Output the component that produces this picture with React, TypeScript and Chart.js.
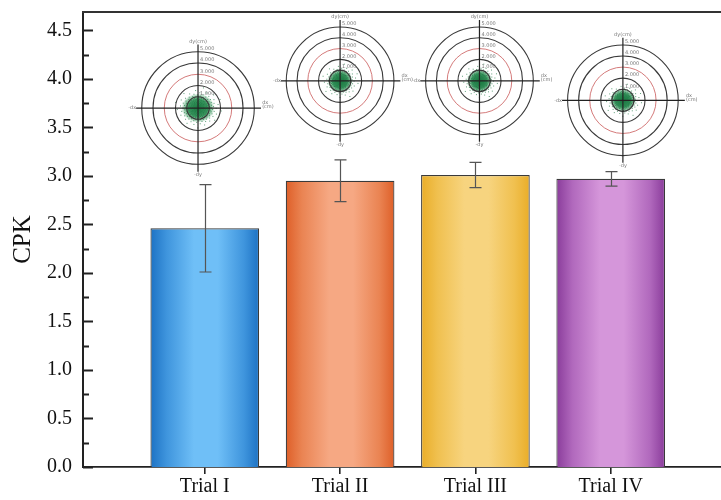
import React, { useEffect, useRef } from 'react';
import { Chart, registerables } from 'chart.js';

Chart.register(...registerables);

// ---- data ----
const categories = ['Trial I', 'Trial II', 'Trial III', 'Trial IV'];
const cpkValues = [2.46, 2.95, 3.01, 2.97];
const cpkErrors = [0.45, 0.215, 0.13, 0.075];
const yMajorTicks = [0, 0.5, 1.0, 1.5, 2.0, 2.5, 3.0, 3.5, 4.0, 4.5];
const yMinorTicks = [0.25, 0.75, 1.25, 1.75, 2.25, 2.75, 3.25, 3.75, 4.25];
const ringLabels = ['1.000', '2.000', '3.000', '4.000', '5.000'];

const edgeColors = ['#1d72c4', '#de5f28', '#e9ad28', '#8a3c9b'];
const midColors = ['#3f95dd', '#ea8453', '#f0c04f', '#b169bd'];
const lightColors = ['#6fbff7', '#f6a883', '#f7d47f', '#d596da'];

// inset target plots (data units: x in category index, y in CPK)
const insetX = [0.95, 2.0, 3.03, 4.09];
const insetY = [3.70, 3.98, 3.98, 3.78];
const insetR = [0.58, 0.555, 0.555, 0.57];
const cloudRx = [0.17, 0.13, 0.13, 0.135];
const cloudRy = [0.15, 0.125, 0.125, 0.12];

const SERIF = '"Liberation Serif", "Times New Roman", serif';

const frameAndTicks = {
  id: 'frameAndTicks',
  afterDraw(chart: any) {
    const { ctx, chartArea } = chart;
    const y = chart.scales.y;
    ctx.save();
    ctx.strokeStyle = '#333';
    ctx.lineWidth = 2;
    ctx.beginPath();
    ctx.moveTo(chartArea.left - 1, chartArea.top);
    ctx.lineTo(chartArea.right, chartArea.top);
    ctx.stroke();
    ctx.strokeStyle = '#222';
    ctx.lineWidth = 1.8;
    ctx.beginPath();
    yMajorTicks.forEach((v) => {
      const py = Math.round(y.getPixelForValue(v)) + 0.5;
      ctx.moveTo(chartArea.left, py);
      ctx.lineTo(chartArea.left + 10, py);
    });
    yMinorTicks.forEach((v) => {
      const py = Math.round(y.getPixelForValue(v)) + 0.5;
      ctx.moveTo(chartArea.left, py);
      ctx.lineTo(chartArea.left + 6, py);
    });
    ctx.stroke();
    ctx.restore();
  },
};

const errorBars = {
  id: 'errorBars',
  afterDatasetsDraw(chart: any) {
    const { ctx } = chart;
    const x = chart.scales.x;
    const y = chart.scales.y;
    ctx.save();
    ctx.strokeStyle = '#555';
    ctx.lineWidth = 1.2;
    cpkValues.forEach((v, i) => {
      const px = Math.round(x.getPixelForValue(i + 1)) + 0.5;
      const top = y.getPixelForValue(v + cpkErrors[i]);
      const bot = y.getPixelForValue(v - cpkErrors[i]);
      ctx.beginPath();
      ctx.moveTo(px, top);
      ctx.lineTo(px, bot);
      ctx.moveTo(px - 6, top);
      ctx.lineTo(px + 6, top);
      ctx.moveTo(px - 6, bot);
      ctx.lineTo(px + 6, bot);
      ctx.stroke();
    });
    ctx.restore();
  },
};

const insets = {
  id: 'insets',
  afterDraw(chart: any) {
    const { ctx } = chart;
    const x = chart.scales.x;
    const y = chart.scales.y;
    const unit = Math.abs(y.getPixelForValue(0) - y.getPixelForValue(1));
    ctx.save();
    insetX.forEach((ix, i) => {
      const cx = x.getPixelForValue(ix);
      const cy = y.getPixelForValue(insetY[i]);
      const R = insetR[i] * unit;
      // cloud
      const rx = cloudRx[i] * unit;
      const ry = cloudRy[i] * unit;
      ctx.save();
      ctx.translate(cx, cy);
      ctx.scale(rx, ry);
      const g = ctx.createRadialGradient(0, 0, 0, 0, 0, 1);
      g.addColorStop(0, 'rgba(22,122,62,0.95)');
      g.addColorStop(0.6, 'rgba(30,135,72,0.85)');
      g.addColorStop(0.85, 'rgba(60,155,95,0.45)');
      g.addColorStop(1, 'rgba(90,170,120,0)');
      ctx.fillStyle = g;
      ctx.beginPath();
      ctx.arc(0, 0, 1, 0, Math.PI * 2);
      ctx.fill();
      ctx.restore();
      // speckle texture
      ctx.fillStyle = 'rgba(25,120,65,0.7)';
      const n = 260;
      for (let k = 0; k < n; k++) {
        const u = (k + 0.5) / n;
        const rr = Math.min(1.45, Math.sqrt(-2 * Math.log(1 - u)) * 0.5);
        const a = k * 2.39996;
        ctx.fillRect(cx + Math.cos(a) * rr * rx, cy + Math.sin(a) * rr * ry, 1, 1);
      }
      // rings
      for (let k = 1; k <= 5; k++) {
        ctx.beginPath();
        ctx.arc(cx, cy, (R * k) / 5, 0, Math.PI * 2);
        if (k === 3) {
          ctx.strokeStyle = '#cf6b6b';
          ctx.lineWidth = 0.9;
        } else {
          ctx.strokeStyle = '#3a3a3a';
          ctx.lineWidth = 1.1;
        }
        ctx.stroke();
      }
      // cross
      ctx.strokeStyle = '#222';
      ctx.lineWidth = 1.2;
      ctx.beginPath();
      ctx.moveTo(cx - R * 1.1, cy);
      ctx.lineTo(cx + R * 1.12, cy);
      ctx.moveTo(cx, cy - R * 1.13);
      ctx.lineTo(cx, cy + R * 1.13);
      ctx.stroke();
      // tiny labels
      ctx.fillStyle = '#777';
      ctx.font = '5px "DejaVu Sans", sans-serif';
      ctx.textBaseline = 'middle';
      ctx.textAlign = 'right';
      ctx.fillText('-dx', cx - R * 1.1, cy);
      ctx.textAlign = 'left';
      ctx.fillText('dx', cx + R * 1.14, cy - 5);
      ctx.fillText('(cm)', cx + R * 1.14, cy - 1);
      ctx.textAlign = 'center';
      ctx.fillText('dy(cm)', cx, cy - R * 1.13 - 3);
      ctx.fillText('-dy', cx, cy + R * 1.13 + 3);
      ctx.textAlign = 'left';
      ringLabels.forEach((lab, k) => {
        ctx.fillText(lab, cx + 2, cy - (R * (k + 1)) / 5 - 3);
      });
    });
    ctx.restore();
  },
};

export default function App() {
  const ref = useRef<HTMLCanvasElement | null>(null);

  useEffect(() => {
    if (!ref.current) return;
    const chart = new Chart(ref.current, {
      type: 'bar',
      data: {
        datasets: [
          {
            data: cpkValues.map((v, i) => ({ x: i + 1, y: v })),
            backgroundColor: (c: any) => {
              const i = c.dataIndex;
              if (i == null) return edgeColors[0];
              const xs = c.chart.scales.x;
              if (!xs) return edgeColors[i];
              const cx = xs.getPixelForValue(i + 1);
              const unit = xs.getPixelForValue(2) - xs.getPixelForValue(1);
              const hw = (unit * 0.803) / 2;
              if (!isFinite(cx) || !isFinite(hw)) return edgeColors[i];
              const g = c.chart.ctx.createLinearGradient(cx - hw, 0, cx + hw, 0);
              g.addColorStop(0, edgeColors[i]);
              g.addColorStop(0.15, midColors[i]);
              g.addColorStop(0.4, lightColors[i]);
              g.addColorStop(0.62, lightColors[i]);
              g.addColorStop(0.86, midColors[i]);
              g.addColorStop(1, edgeColors[i]);
              return g;
            },
            borderColor: '#3a3a3a',
            borderWidth: 1.2,
            borderSkipped: 'bottom',
            categoryPercentage: 1,
            barPercentage: 0.803,
          } as any,
        ],
      },
      options: {
        animation: false,
        responsive: false,
        devicePixelRatio: 1,
        layout: { padding: 0 },
        plugins: { legend: { display: false }, tooltip: { enabled: false } },
        scales: {
          x: {
            type: 'linear',
            min: 0.1,
            max: 4.815,
            offset: false,
            afterBuildTicks: (axis: any) => {
              axis.ticks = categories.map((_, i) => ({ value: i + 1 }));
            },
            afterFit: (s: any) => {
              s.height = 33;
              s.paddingLeft = 0;
              s.paddingRight = 0;
            },
            grid: {
              display: true,
              offset: false,
              drawOnChartArea: false,
              drawTicks: true,
              tickLength: 7,
              color: '#222',
              lineWidth: 1.6,
            },
            border: { display: true, color: '#222', width: 1.8 },
            ticks: {
              autoSkip: false,
              maxRotation: 0,
              padding: 1,
              color: '#111',
              font: { family: SERIF, size: 20 },
              callback: (v: any) => categories[Math.round(Number(v)) - 1] ?? '',
            },
          },
          y: {
            type: 'linear',
            min: 0,
            max: 4.69,
            afterBuildTicks: (axis: any) => {
              axis.ticks = yMajorTicks.map((v) => ({ value: v }));
            },
            afterFit: (s: any) => {
              s.width = 83;
              s.paddingTop = 12;
              s.paddingBottom = 0;
            },
            grid: { display: false, drawTicks: false },
            border: { display: true, color: '#222', width: 2 },
            ticks: {
              padding: 11,
              color: '#111',
              font: { family: SERIF, size: 20 },
              callback: (v: any) => Number(v).toFixed(1),
            },
            title: {
              display: true,
              text: 'CPK',
              color: '#111',
              font: { family: SERIF, size: 25 },
              padding: { top: 8, bottom: 0 },
            },
          },
        },
      } as any,
      plugins: [errorBars, insets, frameAndTicks],
    });
    return () => chart.destroy();
  }, []);

  return (
    <div style={{ position: 'absolute', left: 0, top: 0, width: 721, height: 500, background: '#fff' }}>
      <canvas ref={ref} width={721} height={500} />
    </div>
  );
}
